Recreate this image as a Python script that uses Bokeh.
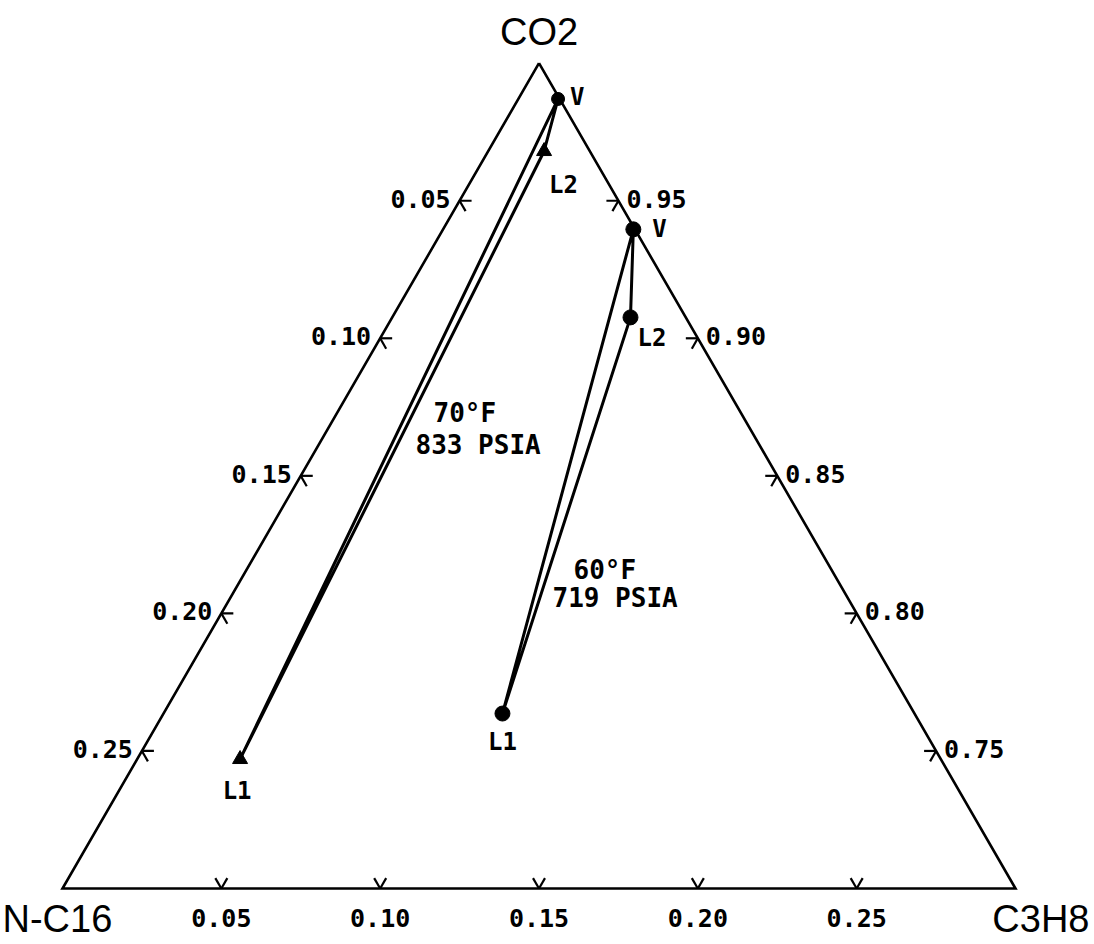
import numpy as np
from bokeh.plotting import figure
from bokeh.models import Range1d
from bokeh.core.properties import value
from bokeh.embed import file_html
from bokeh.resources import INLINE

# Phase compositions (mole fractions) -- order: V, L2, L1
phase_names = ["V", "L2", "L1"]

co2_70 = [0.9870, 0.9680, 0.7470]
c3h8_70 = [0.0125, 0.0176, 0.0324]
nc16_70 = [0.0005, 0.0144, 0.2206]

co2_60 = [0.9396, 0.9076, 0.7636]
c3h8_60 = [0.0599, 0.0750, 0.1067]
nc16_60 = [0.0005, 0.0174, 0.1297]

# Edge tick values
left_ticks = [0.05, 0.10, 0.15, 0.20, 0.25]     # N-C16 fraction
right_ticks = [0.95, 0.90, 0.85, 0.80, 0.75]    # CO2 fraction
bottom_ticks = [0.05, 0.10, 0.15, 0.20, 0.25]   # C3H8 fraction
tick_fmt = "{:.2f}"

CO2_MIN = 0.70            # the diagram covers the CO2-rich corner
SPAN = 1.0 - CO2_MIN
S3 = np.sqrt(3) / 2
PX = 953.0                # screen pixels per unit triangle side


def tern(co2, c3h8):
    """Map CO2 / C3H8 fractions to cartesian coordinates of the sub-triangle."""
    co2 = np.asarray(co2, float)
    c3h8 = np.asarray(c3h8, float)
    w_top = (co2 - CO2_MIN) / SPAN
    w_right = c3h8 / SPAN
    return w_right + 0.5 * w_top, w_top * S3


def px(d):
    return d / PX


W, H = 1094, 944
x0_px, base_px = 62, 888
p = figure(width=W, height=H,
           x_range=Range1d(-x0_px / PX, (W - x0_px) / PX),
           y_range=Range1d(-(H - base_px) / PX, base_px / PX),
           output_backend="svg", toolbar_location=None,
           x_axis_location=None, y_axis_location=None,
           min_border=0, outline_line_color=None,
           background_fill_color="white", border_fill_color="white")
p.grid.visible = False

INK = "black"
MONO = value("DejaVu Sans Mono")
SANS = value("Liberation Sans")

# Triangle frame
cx, cy = tern([1.0, CO2_MIN, CO2_MIN, 1.0], [0.0, 0.0, SPAN, 0.0])
p.line(cx, cy, line_color=INK, line_width=2.6, line_join="miter")

# Ticks: two short strokes along the inward grid directions
L = px(12)

lx, ly = tern([1.0 - v for v in left_ticks], [0.0] * len(left_ticks))
rx, ry = tern(right_ticks, [1.0 - v for v in right_ticks])
bx, by = tern([CO2_MIN] * len(bottom_ticks), bottom_ticks)

sx0, sy0, sx1, sy1 = [], [], [], []
for x, y in zip(lx, ly):
    for dx, dy in [(L, 0.0), (L * 0.5, -L * S3)]:
        sx0.append(x); sy0.append(y); sx1.append(x + dx); sy1.append(y + dy)
for x, y in zip(rx, ry):
    for dx, dy in [(-L, 0.0), (-L * 0.5, -L * S3)]:
        sx0.append(x); sy0.append(y); sx1.append(x + dx); sy1.append(y + dy)
for x, y in zip(bx, by):
    for dx, dy in [(-L * 0.5, L * S3), (L * 0.5, L * S3)]:
        sx0.append(x); sy0.append(y); sx1.append(x + dx); sy1.append(y + dy)
p.segment(sx0, sy0, sx1, sy1, line_color=INK, line_width=2.2)

tick_font = dict(text_font=MONO, text_font_style="bold",
                 text_font_size="25px", text_color=INK)
p.text(lx - px(9), ly + px(2), text=[tick_fmt.format(v) for v in left_ticks],
       text_align="right", text_baseline="middle", **tick_font)
p.text(rx + px(8), ry + px(2), text=[tick_fmt.format(v) for v in right_ticks],
       text_align="left", text_baseline="middle", **tick_font)
p.text(bx, by - px(29), text=[tick_fmt.format(v) for v in bottom_ticks],
       text_align="center", text_baseline="middle", **tick_font)

# Corner component names
big = dict(text_font=SANS, text_font_size="38px", text_color=INK,
           text_baseline="middle")
p.text([cx[0]], [cy[0] + px(31)], text=["CO2"], text_align="center", **big)
p.text([cx[1] - px(60)], [cy[1] - px(30)], text=["N-C16"], text_align="left", **big)
p.text([cx[2] + px(74)], [cy[2] - px(30)], text=["C3H8"], text_align="right", **big)

# Tie triangles
t70x, t70y = tern(co2_70, c3h8_70)
t60x, t60y = tern(co2_60, c3h8_60)
for tx, ty in [(t70x, t70y), (t60x, t60y)]:
    p.line(list(tx) + [tx[0]], list(ty) + [ty[0]], line_color=INK,
           line_width=3, line_join="round")

# Phase markers
p.scatter([t70x[0]], [t70y[0]], marker="circle", size=13, color=INK)
p.scatter(t70x[1:], t70y[1:], marker="triangle", size=15, color=INK)
p.scatter(t60x, t60y, marker="circle", size=15, color=INK)

lab = dict(text_font=MONO, text_font_style="bold", text_font_size="24px",
           text_color=INK, text_baseline="middle")
# 70 F labels
p.text([t70x[0] + px(12)], [t70y[0] + px(2)], text=[phase_names[0]], text_align="left", **lab)
p.text([t70x[1] + px(5)], [t70y[1] - px(34)], text=[phase_names[1]], text_align="left", **lab)
p.text([t70x[2] - px(3)], [t70y[2] - px(32)], text=[phase_names[2]], text_align="center", **lab)
# 60 F labels
p.text([t60x[0] + px(19)], [t60y[0]], text=[phase_names[0]], text_align="left", **lab)
p.text([t60x[1] + px(7)], [t60y[1] - px(21)], text=[phase_names[1]], text_align="left", **lab)
p.text([t60x[2]], [t60y[2] - px(28)], text=[phase_names[2]], text_align="center", **lab)

# Condition annotations beside each tie triangle
ann = dict(text_font=MONO, text_font_style="bold", text_font_size="26px",
           text_color=INK, text_baseline="middle", text_align="left")
p.text([px(433 - x0_px)], [px(base_px - 412)], text=["70°F"], **ann)
p.text([px(415 - x0_px)], [px(base_px - 444)], text=["833 PSIA"], **ann)
p.text([px(573 - x0_px)], [px(base_px - 569)], text=["60°F"], **ann)
p.text([px(552 - x0_px)], [px(base_px - 597)], text=["719 PSIA"], **ann)

open("out.html", "w").write(file_html(p, INLINE))
